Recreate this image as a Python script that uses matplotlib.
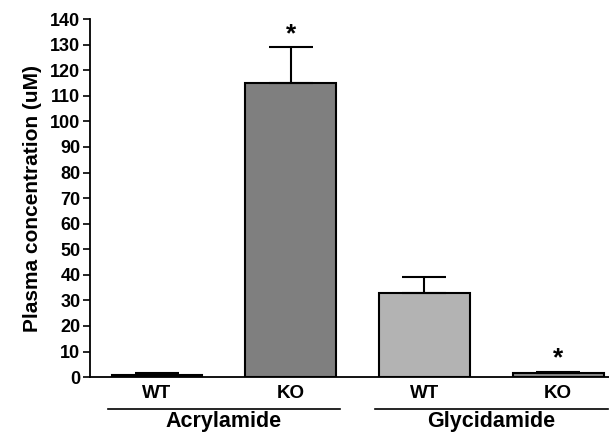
import matplotlib
matplotlib.use("Agg")
import matplotlib.pyplot as plt

plt.rcParams["font.family"] = ["Liberation Sans", "DejaVu Sans"]
plt.rcParams["font.weight"] = "bold"

genotypes = ["WT", "KO", "WT", "KO"]
groups = ["Acrylamide", "Glycidamide"]
values = [1.0, 115.0, 33.0, 1.6]
errors = [0.5, 14.0, 6.0, 0.4]
colors = ["#3a3a3a", "#7f7f7f", "#b3b3b3", "#8a8a8a"]
significant = [False, True, False, True]

fig = plt.figure(figsize=(6.09, 4.33), dpi=100)
ax = fig.add_axes([0.148, 0.129, 0.852, 0.827])

x = list(range(len(values)))
ax.bar(x, values, width=0.68, color=colors, edgecolor="black", linewidth=1.5, zorder=2)
ax.errorbar(x, values, yerr=[[0] * len(errors), errors], fmt="none", ecolor="black",
            elinewidth=1.5, capsize=15.5, capthick=1.5, zorder=3)

for xi, v, e, sig in zip(x, values, errors, significant):
    if sig:
        ax.text(xi, v + e + 0.5, "*", ha="center", va="bottom", fontsize=19, fontweight="bold")

ax.set_xlim(-0.5, 3.38)
ax.set_ylim(0, 140)
ax.set_yticks(range(0, 141, 10))
ax.tick_params(axis="y", labelsize=13, length=5, width=1.2, direction="out", pad=2)
ax.set_xticks(x)
ax.set_xticklabels(genotypes, fontsize=13.5, fontweight="bold")
ax.tick_params(axis="x", length=0, pad=6)
ax.set_ylabel("Plasma concentration (uM)", fontsize=15, fontweight="bold", labelpad=6)
ax.spines["top"].set_visible(False)
ax.spines["right"].set_visible(False)
ax.spines["left"].set_linewidth(1.3)
ax.spines["bottom"].set_linewidth(1.3)

# group bars under the tick labels
trans = ax.get_xaxis_transform()
for gi, name in enumerate(groups):
    left = x[2 * gi] - 0.37
    right = x[2 * gi + 1] + 0.37
    ax.plot([left, right], [-0.089, -0.089], color="black", linewidth=1.2,
            transform=trans, clip_on=False)
    ax.text((left + right) / 2, -0.152, name, ha="center", va="bottom",
            fontsize=15.5, fontweight="bold", transform=trans)

fig.savefig("out.png", dpi=100)
